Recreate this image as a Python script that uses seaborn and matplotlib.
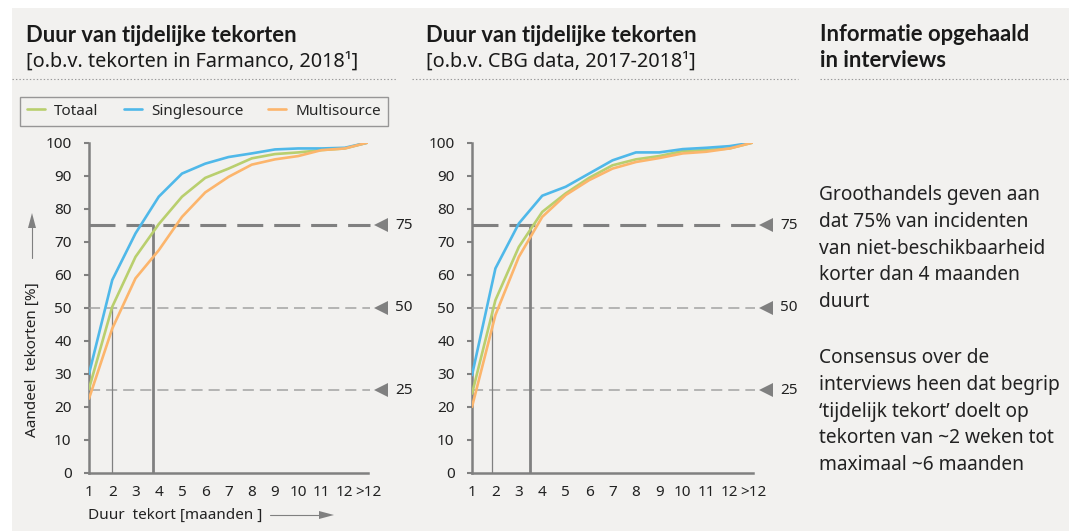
import matplotlib
matplotlib.use('Agg')
import matplotlib.pyplot as plt
import seaborn as sns
import pandas as pd
from matplotlib.patches import Rectangle
from matplotlib.lines import Line2D

# Style
sns.set_theme(style='white')
plt.rcParams['font.family'] = ['Noto Sans', 'DejaVu Sans']
plt.rcParams['lines.scale_dashes'] = False

# Data (x = duration in months, index 0..12)
month_labels = ['1', '2', '3', '4', '5', '6', '7', '8', '9', '10', '11', '12', '>12']
series_names = ['Totaal', 'Singlesource', 'Multisource']

# Farmanco 2018
farmanco_totaal = [25.5, 50.3, 65.4, 75.3, 83.6, 89.3, 92.1, 95.2, 96.5, 97.0, 97.7, 98.2, 100]
farmanco_single = [30.0, 58.4, 72.5, 83.6, 90.6, 93.6, 95.6, 96.7, 97.9, 98.2, 98.2, 98.4, 100]
farmanco_multi = [22.5, 43.7, 58.9, 67.4, 77.5, 84.9, 89.6, 93.3, 94.9, 95.9, 97.7, 98.2, 100]

# CBG 2017-2018
cbg_totaal = [24.0, 52.3, 68.4, 79.0, 84.6, 89.3, 93.1, 94.9, 95.9, 97.4, 97.7, 98.2, 100]
cbg_single = [29.6, 61.9, 75.5, 83.9, 86.6, 90.6, 94.6, 97.0, 97.0, 98.0, 98.4, 98.9, 100]
cbg_multi = [20.0, 47.8, 65.4, 77.5, 84.1, 88.6, 92.1, 94.1, 95.3, 96.7, 97.2, 98.2, 100]

# reference levels and where the curves cross them (x index)
ref_levels = [75, 50, 25]
farmanco_cross = {50: 1.0, 75: 2.75}
cbg_cross = {50: 0.87, 75: 2.48}

interview_lines = [
    'Groothandels geven aan',
    'dat 75% van incidenten',
    'van niet-beschikbaarheid',
    'korter dan 4 maanden',
    'duurt',
    'Consensus over de',
    'interviews heen dat begrip',
    '\u2018tijdelijk tekort\u2019 doelt op',
    'tekorten van ~2 weken tot',
    'maximaal ~6 maanden',
]

palette = {'Totaal': '#b9cf6e', 'Singlesource': '#4fb8e9', 'Multisource': '#fcb56c'}
grey = '#808080'
bg = '#f2f1ef'
W, H = 1069, 531


def fx(px):
    return px / W


def fy(py):
    return 1 - py / H


def make_df(tot, single, multi):
    rows = []
    for name, vals in zip(series_names, [tot, single, multi]):
        for i, v in enumerate(vals):
            rows.append({'x': i, 'Aandeel': v, 'Reeks': name})
    return pd.DataFrame(rows)


fig = plt.figure(figsize=(W / 100, H / 100), dpi=100)
fig.patch.set_facecolor('white')
fig.patches.append(Rectangle((fx(12), 0), 1, fy(8), transform=fig.transFigure,
                             facecolor=bg, edgecolor='none', zorder=-10))

ax1 = fig.add_axes([fx(89), fy(473), 279 / W, 330.5 / H])
ax2 = fig.add_axes([fx(472), fy(473), 281 / W, 330.5 / H])

for ax, (tot, single, multi), cross in [
        (ax1, (farmanco_totaal, farmanco_single, farmanco_multi), farmanco_cross),
        (ax2, (cbg_totaal, cbg_single, cbg_multi), cbg_cross)]:
    df = make_df(tot, single, multi)
    ax.set_facecolor('none')
    sns.lineplot(data=df, x='x', y='Aandeel', hue='Reeks', hue_order=series_names,
                 palette=palette, linewidth=1.9, ax=ax, zorder=5)

    # reference lines
    ax.plot([0, 12.08], [75, 75], color=grey, lw=2.2, ls=(0, (18.7, 7.9)),
            clip_on=False, zorder=3)
    for lvl in [50, 25]:
        ax.plot([0, 12.08], [lvl, lvl], color='#a3a3a3', lw=1.1, ls=(0, (8, 4.3)),
                clip_on=False, zorder=3)
    ax.plot([cross[50], cross[50]], [0, 50], color=grey, lw=0.9, zorder=3)
    ax.plot([cross[75], cross[75]], [0, 75], color=grey, lw=2.0, zorder=3)

    for lvl in ref_levels:
        ax.plot([12.56], [lvl], marker='<', markersize=10, color=grey,
                markeredgewidth=0, clip_on=False)
        ax.text(13.16, lvl, str(lvl), ha='left', va='center', fontsize=11,
                color='#222222')

    ax.set_xlim(0, 12)
    ax.set_ylim(0, 100)
    ax.set_xticks(range(13))
    ax.set_xticklabels(month_labels)
    ax.set_yticks(range(0, 101, 10))
    ax.set_xlabel('')
    ax.set_ylabel('')
    for s in ['top', 'right']:
        ax.spines[s].set_visible(False)
    for s in ['left', 'bottom']:
        ax.spines[s].set_color(grey)
        ax.spines[s].set_linewidth(1.8)
    ax.tick_params(axis='y', left=True, length=3.5, width=1.5, color=grey,
                   pad=9, labelsize=11, labelcolor='#222222')
    ax.tick_params(axis='x', bottom=False, length=0, pad=9, labelsize=11,
                   labelcolor='#222222')
    ax.get_legend().remove()

# legend on the left chart
handles, labels = ax1.get_legend_handles_labels()
leg = fig.legend(handles[:3], labels[:3], ncol=3, loc='lower left',
                 bbox_to_anchor=(fx(20), fy(125.7), (388 - 20) / W, (125.7 - 90) / H),
                 bbox_transform=fig.transFigure, mode='expand', frameon=True,
                 fancybox=False, fontsize=11, handlelength=1.2, handletextpad=0.6,
                 borderaxespad=0, borderpad=0.45)
leg.get_frame().set_edgecolor(grey)
leg.get_frame().set_facecolor(bg)
leg.get_frame().set_linewidth(1.0)
for h in leg.legend_handles:
    h.set_linewidth(1.9)

# axis labels with arrows
fig.text(fx(32), fy(360), 'Aandeel  tekorten [%]', rotation=90, ha='center',
         va='center', fontsize=11, color='#222222')
fig.add_artist(Line2D([fx(32), fx(32)], [fy(258), fy(222)], color=grey, lw=0.8))
fig.text(fx(88), fy(515), 'Duur  tekort [maanden ]', ha='left', va='center',
         fontsize=11, color='#222222')
fig.add_artist(Line2D([fx(270), fx(325)], [fy(515), fy(515)], color=grey, lw=0.8))
for (x0, y0, x1, y1) in [(32, 228, 32, 213), (319, 515, 334, 515)]:
    fig.patches.append(plt.Polygon(
        [[fx(x1), fy(y1)],
         [fx(x0 - 4 if x0 == x1 else x0), fy(y0 if x0 == x1 else y0 - 4)],
         [fx(x0 + 4 if x0 == x1 else x0), fy(y0 if x0 == x1 else y0 + 4)]],
        closed=True, transform=fig.transFigure, facecolor=grey, edgecolor='none'))

# titles
bold_kw = dict(fontsize=15.8, color='#1a1a1a', va='baseline', ha='left',
               family=['Lato', 'DejaVu Sans'], fontweight='bold')
sub_kw = dict(fontsize=14.3, color='#1a1a1a', va='baseline', ha='left')
fig.text(fx(26), fy(42), 'Duur van tijdelijke tekorten', **bold_kw)
fig.text(fx(26), fy(67), '[o.b.v. tekorten in Farmanco, 2018\u00b9]', **sub_kw)
fig.text(fx(426), fy(42), 'Duur van tijdelijke tekorten', **bold_kw)
fig.text(fx(426), fy(67), '[o.b.v. CBG data, 2017-2018\u00b9]', **sub_kw)
fig.text(fx(820), fy(41), 'Informatie opgehaald', **bold_kw)
fig.text(fx(820), fy(67), 'in interviews', **bold_kw)

for x0, x1 in [(12, 397), (412, 798), (820, 1069)]:
    fig.add_artist(Line2D([fx(x0), fx(x1)], [fy(79), fy(79)], color='#9a9a9a',
                          lw=0.8, ls=(0, (1, 1.5))))

# interview text
baselines = [200, 227, 253.5, 280, 307, 363, 390, 416.5, 443, 470]
for line, b in zip(interview_lines, baselines):
    fig.text(fx(819), fy(b), line, fontsize=13.8, color='#222222',
             va='baseline', ha='left')

plt.savefig('out.png', dpi=100, facecolor=fig.get_facecolor())
